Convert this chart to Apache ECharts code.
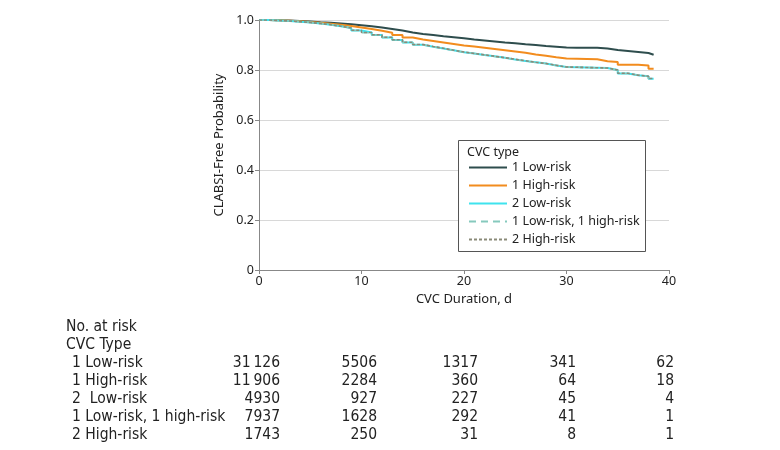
<!DOCTYPE html>
<html>
<head>
<meta charset="utf-8">
<script src="https://cdn.jsdelivr.net/npm/echarts@6/dist/echarts.min.js"></script>
<style>html,body{margin:0;padding:0;background:#fff}#c{width:780px;height:450px}</style>
</head>
<body>
<div id="c"></div>
<script>
var days = [0,1,2,3,4,5,6,7,8,9,10,11,12,13,14,15,16,17,18,19,20,21,22,23,24,25,26,27,28,29,30,31,32,33,34,35,36,37,38,38.5];
var lowRisk1 = [1.000,0.999,0.998,0.996,0.994,0.991,0.989,0.986,0.983,0.979,0.975,0.970,0.964,0.958,0.950,0.944,0.940,0.935,0.931,0.927,0.922,0.918,0.914,0.910,0.907,0.903,0.900,0.896,0.893,0.890,0.889,0.889,0.889,0.886,0.880,0.876,0.872,0.868,0.861,0.861];
var highRisk1 = [1.000,0.999,0.997,0.995,0.992,0.989,0.985,0.981,0.976,0.970,0.964,0.957,0.949,0.940,0.930,0.922,0.916,0.910,0.904,0.898,0.894,0.889,0.884,0.879,0.874,0.869,0.862,0.857,0.851,0.846,0.845,0.844,0.843,0.835,0.832,0.821,0.821,0.818,0.805,0.805];
var lowRisk2 = [1.000,0.998,0.996,0.993,0.990,0.986,0.981,0.975,0.968,0.958,0.950,0.940,0.930,0.920,0.910,0.901,0.893,0.886,0.879,0.871,0.866,0.860,0.855,0.849,0.842,0.836,0.831,0.826,0.818,0.812,0.811,0.810,0.809,0.808,0.800,0.786,0.779,0.775,0.765,0.764];
var lowHigh = [1.000,0.998,0.996,0.993,0.990,0.986,0.981,0.975,0.967,0.958,0.949,0.940,0.930,0.920,0.910,0.901,0.893,0.886,0.878,0.871,0.866,0.860,0.854,0.849,0.842,0.836,0.830,0.826,0.818,0.812,0.811,0.810,0.809,0.807,0.799,0.786,0.779,0.774,0.765,0.763];
var highRisk2 = [1.000,0.998,0.996,0.993,0.990,0.986,0.981,0.975,0.968,0.959,0.950,0.941,0.931,0.921,0.911,0.902,0.894,0.887,0.879,0.872,0.866,0.861,0.855,0.849,0.843,0.837,0.831,0.826,0.819,0.812,0.811,0.810,0.809,0.808,0.800,0.787,0.779,0.775,0.766,0.764];

var seriesNames = ['1 Low-risk','1 High-risk','2 Low-risk','1 Low-risk, 1 high-risk','2 High-risk'];
var riskLabels = ['1 Low-risk','1 High-risk','2  Low-risk','1 Low-risk, 1 high-risk','2 High-risk'];
var atRisk = [
  ['31\u2009126','5506','1317','341','62'],
  ['11\u2009906','2284','360','64','18'],
  ['4930','927','227','45','4'],
  ['7937','1628','292','41','1'],
  ['1743','250','31','8','1']
];

var font = 'Noto Sans';
var tfont = 'DejaVu Sans Condensed';
function pairs(v){ return days.map(function(d,i){ return [d, v[i]]; }); }

var chart = echarts.init(document.getElementById('c'), null, {renderer:'canvas'});
var colX = [280, 377, 478, 576, 674];
var tf = '15.5px "'+tfont+'"';
var g = [
  {type:'rect', shape:{x:458.5,y:140.5,width:187,height:111}, style:{fill:'#fff',stroke:'#555',lineWidth:1}, z:3},
  {type:'text', x:467, y:152, style:{text:'CVC type', font:'12.5px "'+font+'"', fill:'#222', verticalAlign:'middle'}, z:5},
  {type:'text', x:66, y:327, style:{text:'No. at risk', font:tf, fill:'#222', verticalAlign:'middle'}},
  {type:'text', x:66, y:345, style:{text:'CVC Type', font:tf, fill:'#222', verticalAlign:'middle'}}
];
riskLabels.forEach(function(lab, r){
  var y = 363 + r*18;
  g.push({type:'text', x:72, y:y, style:{text:lab, font:tf, fill:'#222', verticalAlign:'middle'}});
  atRisk[r].forEach(function(val, c){
    g.push({type:'text', x:colX[c], y:y, style:{text:val, font:tf, fill:'#222', align:'right', verticalAlign:'middle'}});
  });
});

var colors = ['#2e4d4d','#f28c1e','#3fe3ee','#86c9bd','#8a8a78'];
var styles = [
  {width:2, type:'solid'},
  {width:2, type:'solid'},
  {width:2, type:'solid'},
  {width:1.6, type:[7,5]},
  {width:1.6, type:[3,2]}
];
var datasets = [lowRisk1, highRisk1, lowRisk2, lowHigh, highRisk2];

chart.setOption({
  animation:false,
  textStyle:{fontFamily:font},
  grid:{left:259, right:111, top:20, bottom:180},
  graphic:g,
  legend:{
    orient:'vertical', left:463, top:156, itemWidth:38, itemHeight:12, itemGap:5,
    data:seriesNames, z:6,
    itemStyle:{opacity:0},
    textStyle:{fontFamily:font, fontSize:12.5, color:'#222'}
  },
  xAxis:{
    type:'value', min:0, max:40, interval:10,
    name:'CVC Duration, d', nameLocation:'middle', nameGap:21,
    nameTextStyle:{fontSize:13, color:'#222', fontFamily:font},
    axisLine:{lineStyle:{color:'#888'}},
    axisTick:{show:true, length:4, lineStyle:{color:'#888'}},
    axisLabel:{fontSize:12.5, color:'#222', margin:5, fontFamily:font},
    splitLine:{show:false}
  },
  yAxis:{
    type:'value', min:0, max:1, interval:0.2,
    name:'CLABSI-Free Probability', nameLocation:'middle', nameGap:21,
    nameTextStyle:{fontSize:13, color:'#222', fontFamily:font},
    axisLine:{show:true, lineStyle:{color:'#888'}},
    axisTick:{show:true, length:4, lineStyle:{color:'#888'}},
    axisLabel:{fontSize:12.5, color:'#222', margin:5, fontFamily:font,
      formatter:function(v){ return v===0 ? '0' : v.toFixed(1); }},
    splitLine:{show:true, lineStyle:{color:'#d8d8d8'}}
  },
  series: datasets.map(function(d,i){
    return {
      name:seriesNames[i], type:'line', step:'end', data:pairs(d),
      symbol:'none', showSymbol:false, color:colors[i],
      lineStyle:{color:colors[i], width:styles[i].width, type:styles[i].type},
      z:2+i
    };
  })
});
</script>
</body>
</html>
